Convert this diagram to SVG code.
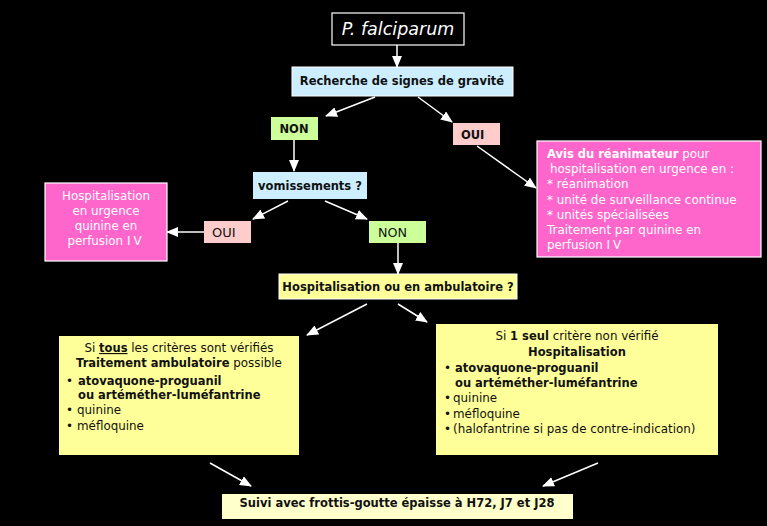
<svg xmlns="http://www.w3.org/2000/svg" width="767" height="526" viewBox="0 0 767 526">
<style>
text{font-family:"DejaVu Sans","Liberation Sans",sans-serif;font-size:11.9px;fill:#111}
.b{font-weight:bold;font-size:11.5px}
.w{fill:#fff}
.c{text-anchor:middle}
.conn line{stroke:#fff;stroke-width:1.5;marker-end:url(#ah)}
</style>
<defs>
<marker id="ah" markerUnits="userSpaceOnUse" markerWidth="12" markerHeight="10" refX="11" refY="5" orient="auto">
<path d="M0,0 L12,5 L0,10 z" fill="#fff"/>
</marker>
</defs>
<rect width="767" height="526" fill="#000"/>
<g class="conn">
<line x1="397" y1="45" x2="397" y2="67"/>
<line x1="375" y1="97" x2="326" y2="116"/>
<line x1="418" y1="97" x2="452" y2="122"/>
<line x1="294" y1="140" x2="294" y2="171"/>
<line x1="477" y1="146" x2="536" y2="188"/>
<line x1="288" y1="201" x2="253" y2="219"/>
<line x1="325" y1="201" x2="367" y2="219"/>
<line x1="204" y1="232" x2="167" y2="232"/>
<line x1="398" y1="243" x2="398" y2="274"/>
<line x1="367" y1="304" x2="307" y2="335"/>
<line x1="398" y1="304" x2="427" y2="322"/>
<line x1="210" y1="463" x2="251" y2="486"/>
<line x1="598" y1="463" x2="543" y2="486"/>
</g>
<g id="start">
<rect x="332" y="13" width="132" height="32" fill="#000" stroke="#fff" stroke-width="1.2"/>
<text x="398" y="35" class="c w" style="font-style:italic;font-size:17.5px">P. falciparum</text>
</g>
<g id="gravite">
<rect x="292" y="67" width="221" height="29" fill="#CCEEFF" stroke="#fff" stroke-width="1"/>
<text x="402" y="85" class="c b">Recherche de signes de gravité</text>
</g>
<g id="non1">
<rect x="271" y="117" width="47" height="23" fill="#CCFF99"/>
<text x="294" y="133" class="c b">NON</text>
</g>
<g id="oui1">
<rect x="453" y="123" width="47" height="22" fill="#FFCCCC"/>
<text x="461" y="139" class="b">OUI</text>
</g>
<g id="reanimateur">
<rect x="537" y="141" width="224" height="116" fill="#FF66CC" stroke="#fff" stroke-width="1.2"/>
<text x="547" y="158" class="w"><tspan class="b">Avis du réanimateur</tspan> pour</text>
<text x="550" y="173" class="w">hospitalisation en urgence en :</text>
<text x="547" y="188" class="w">* réanimation</text>
<text x="547" y="204" class="w">* unité de surveillance continue</text>
<text x="547" y="219" class="w">* unités spécialisées</text>
<text x="547" y="234" class="w">Traitement par quinine en</text>
<text x="547" y="249" class="w">perfusion <tspan letter-spacing="3">IV</tspan></text>
</g>
<g id="vomissements">
<rect x="253" y="172" width="114" height="27" fill="#CCEEFF"/>
<text x="310" y="190" class="c b">vomissements ?</text>
</g>
<g id="oui2">
<rect x="204" y="221" width="47" height="22" fill="#FFCCCC"/>
<text x="212" y="237" style="font-size:13px">OUI</text>
</g>
<g id="urgence">
<rect x="45" y="183" width="122" height="78" fill="#FF66CC" stroke="#fff" stroke-width="1.2"/>
<text x="106" y="200" class="c w">Hospitalisation</text>
<text x="106" y="215" class="c w">en urgence</text>
<text x="106" y="230" class="c w">quinine en</text>
<text x="106" y="245" class="c w">perfusion <tspan letter-spacing="3">IV</tspan></text>
</g>
<g id="non2">
<rect x="369" y="221" width="57" height="22" fill="#CCFF99"/>
<text x="378" y="237" style="font-size:12.7px">NON</text>
</g>
<g id="hospit">
<rect x="279" y="274" width="238" height="25" fill="#FFFF99" stroke="#fff" stroke-width="1"/>
<text x="398" y="291" class="c b">Hospitalisation ou en ambulatoire ?</text>
</g>
<g id="ambulatoire">
<rect x="59" y="336" width="240" height="119" fill="#FFFF99"/>
<text x="179" y="352" class="c">Si <tspan class="b" text-decoration="underline">tous</tspan> les critères sont vérifiés</text>
<text x="179" y="367" class="c"><tspan class="b">Traitement ambulatoire</tspan> possible</text>
<text x="66" y="385">•</text>
<text x="78" y="385" class="b">atovaquone-proguanil</text>
<text x="78" y="399" class="b">ou artéméther-luméfantrine</text>
<text x="66" y="414">•</text>
<text x="77" y="414">quinine</text>
<text x="66" y="430">•</text>
<text x="77" y="430">méfloquine</text>
</g>
<g id="hospitalisation">
<rect x="436" y="324" width="282" height="131" fill="#FFFF99"/>
<text x="577" y="340" class="c">Si <tspan class="b">1 seul</tspan> critère non vérifié</text>
<text x="577" y="356" class="c b">Hospitalisation</text>
<text x="444" y="372">•</text>
<text x="455" y="372" class="b">atovaquone-proguanil</text>
<text x="455" y="387" class="b">ou artéméther-luméfantrine</text>
<text x="444" y="402">•</text>
<text x="453" y="402">quinine</text>
<text x="444" y="418">•</text>
<text x="453" y="418">méfloquine</text>
<text x="444" y="433">•</text>
<text x="453" y="433">(halofantrine si pas de contre-indication)</text>
</g>
<g id="suivi">
<rect x="222" y="494" width="351" height="25" fill="#FFFFCC"/>
<text x="397" y="506.5" class="c b">Suivi avec frottis-goutte épaisse à H72, J7 et J28</text>
</g>
</svg>
